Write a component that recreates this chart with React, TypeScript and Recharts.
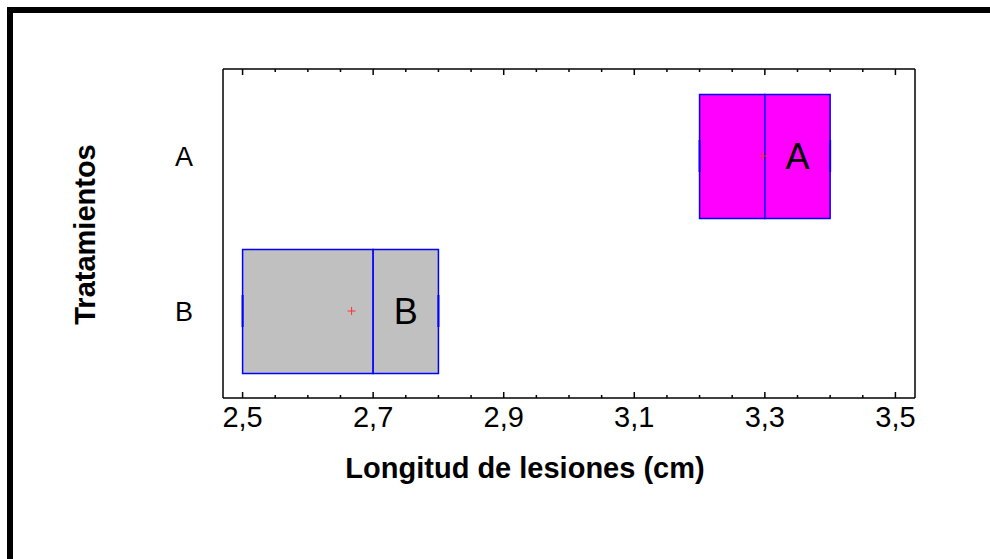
import { ComposedChart, Bar, Line, XAxis, YAxis, LabelList, Cell } from 'recharts';

// box plot stats per treatment
const groups = ['A', 'B'];
const q1 = [3.2, 2.5];
const median = [3.3, 2.7];
const q3 = [3.4, 2.8];
const mean = [3.298, 2.667];
const whiskerLow = [3.2, 2.5];
const whiskerHigh = [3.4, 2.8];
const boxColors = ['#ff00ff', '#c0c0c0'];

// x axis
const xDomain = [2.47, 3.53];
const xTicks = [
  2.5, 2.55, 2.6, 2.65, 2.7, 2.75, 2.8, 2.85, 2.9, 2.95, 3.0,
  3.05, 3.1, 3.15, 3.2, 3.25, 3.3, 3.35, 3.4, 3.45, 3.5,
];
const xLabelTicks = [2.5, 2.7, 2.9, 3.1, 3.3, 3.5];

const data = groups.map((g, i) => ({
  group: g,
  lower: [q1[i], median[i]],
  upper: [median[i], q3[i]],
  mean: mean[i],
  lo: whiskerLow[i],
  hi: whiskerHigh[i],
}));

const FONT = 'Arial, "Liberation Sans", sans-serif';
const BLUE = '#0000ff';

const fmt = (v: number) => v.toFixed(1).replace('.', ',');

const BottomTick = (props: any) => {
  const { x, y, payload } = props;
  const major = xLabelTicks.includes(payload.value);
  return (
    <g>
      <line x1={x} x2={x} y1={y} y2={y - (major ? 6 : 3)} stroke="#000" strokeWidth={1.5} />
      {major && (
        <text x={x} y={y + 29} textAnchor="middle" fontSize={29} fontFamily={FONT} fill="#000">
          {fmt(payload.value)}
        </text>
      )}
    </g>
  );
};

const TopTick = (props: any) => {
  const { x, y, payload } = props;
  const major = xLabelTicks.includes(payload.value);
  return <line x1={x} x2={x} y1={y} y2={y + (major ? 6 : 3)} stroke="#000" strokeWidth={1.5} />;
};

const MeanDot = (props: any) => {
  const { cx, cy } = props;
  if (cx == null || cy == null) return <g />;
  return (
    <g>
      <line x1={cx - 4} x2={cx + 4} y1={cy} y2={cy} stroke="#ff3030" strokeWidth={1} />
      <line x1={cx} x2={cx} y1={cy - 4} y2={cy + 4} stroke="#ff3030" strokeWidth={1} />
    </g>
  );
};

const WhiskerCap = (props: any) => {
  const { cx, cy } = props;
  if (cx == null || cy == null) return <g />;
  return <line x1={cx} x2={cx} y1={cy - 16} y2={cy + 16} stroke={BLUE} strokeWidth={2} />;
};

const XTitle = (props: any) => {
  const { viewBox } = props;
  return (
    <text
      x={viewBox.x + viewBox.width / 2 - 44}
      y={viewBox.y + 80}
      textAnchor="middle"
      fontSize={29}
      fontWeight="bold"
      fontFamily={FONT}
      fill="#000"
    >
      Longitud de lesiones (cm)
    </text>
  );
};

const YTitle = (props: any) => {
  const { viewBox } = props;
  const x = viewBox.x - 68;
  const y = viewBox.y + viewBox.height / 2 + 1;
  return (
    <text
      x={x}
      y={y}
      transform={`rotate(-90, ${x}, ${y})`}
      textAnchor="middle"
      fontSize={29}
      fontWeight="bold"
      fontFamily={FONT}
      fill="#000"
    >
      Tratamientos
    </text>
  );
};

export default function App() {
  return (
    <div
      style={{
        position: 'absolute',
        left: 0,
        top: 0,
        width: 990,
        height: 559,
        overflow: 'hidden',
        background: '#fff',
        fontFamily: FONT,
      }}
    >
      {/* outer frame */}
      <div
        style={{
          position: 'absolute',
          left: 7,
          top: 7,
          width: 2000,
          height: 2000,
          borderTop: '6px solid #000',
          borderLeft: '6px solid #000',
        }}
      />
      <div style={{ position: 'absolute', left: 0, top: 0 }}>
        <ComposedChart
          width={990}
          height={559}
          data={data}
          layout="vertical"
          margin={{ top: 68, right: 74, left: 163, bottom: 121 }}
        >
          <XAxis
            xAxisId="bottom"
            type="number"
            domain={xDomain}
            allowDataOverflow
            ticks={xTicks}
            interval={0}
            tick={<BottomTick />}
            tickLine={false}
            tickSize={0}
            tickMargin={0}
            height={40}
            axisLine={{ stroke: '#000', strokeWidth: 1.5 }}
            label={{ content: <XTitle /> }}
          />
          <XAxis
            xAxisId="top"
            orientation="top"
            type="number"
            domain={xDomain}
            allowDataOverflow
            ticks={xTicks}
            interval={0}
            tick={<TopTick />}
            tickLine={false}
            tickSize={0}
            tickMargin={0}
            height={1}
            axisLine={{ stroke: '#000', strokeWidth: 1.5 }}
          />
          <YAxis
            yAxisId="cat"
            type="category"
            dataKey="group"
            width={60}
            padding={{ top: 9.5, bottom: 9.5 }}
            tickLine={false}
            tickSize={0}
            tickMargin={30}
            tick={{ fontSize: 27, fill: '#000', fontFamily: FONT }}
            axisLine={{ stroke: '#000', strokeWidth: 1.5 }}
            label={{ content: <YTitle /> }}
          />
          <YAxis
            yAxisId="cat2"
            type="category"
            dataKey="group"
            hide
            padding={{ top: 9.5, bottom: 9.5 }}
          />
          <YAxis
            yAxisId="right"
            orientation="right"
            type="number"
            width={1}
            tick={false}
            tickLine={false}
            axisLine={{ stroke: '#000', strokeWidth: 1.5 }}
          />
          <Bar
            xAxisId="bottom"
            yAxisId="cat"
            dataKey="lower"
            barSize={124}
            stroke={BLUE}
            strokeWidth={1.5}
            isAnimationActive={false}
          >
            {data.map((d, i) => (
              <Cell key={d.group} fill={boxColors[i]} />
            ))}
          </Bar>
          <Bar
            xAxisId="bottom"
            yAxisId="cat2"
            dataKey="upper"
            barSize={124}
            stroke={BLUE}
            strokeWidth={1.5}
            isAnimationActive={false}
          >
            {data.map((d, i) => (
              <Cell key={d.group} fill={boxColors[i]} />
            ))}
            <LabelList dataKey="group" position="center" fill="#000" fontSize={36} fontFamily={FONT} />
          </Bar>
          <Line
            xAxisId="bottom"
            yAxisId="cat"
            dataKey="lo"
            stroke="none"
            dot={<WhiskerCap />}
            activeDot={false}
            isAnimationActive={false}
          />
          <Line
            xAxisId="bottom"
            yAxisId="cat"
            dataKey="hi"
            stroke="none"
            dot={<WhiskerCap />}
            activeDot={false}
            isAnimationActive={false}
          />
          <Line
            xAxisId="bottom"
            yAxisId="cat"
            dataKey="mean"
            stroke="none"
            dot={<MeanDot />}
            activeDot={false}
            isAnimationActive={false}
          />
        </ComposedChart>
      </div>
    </div>
  );
}
